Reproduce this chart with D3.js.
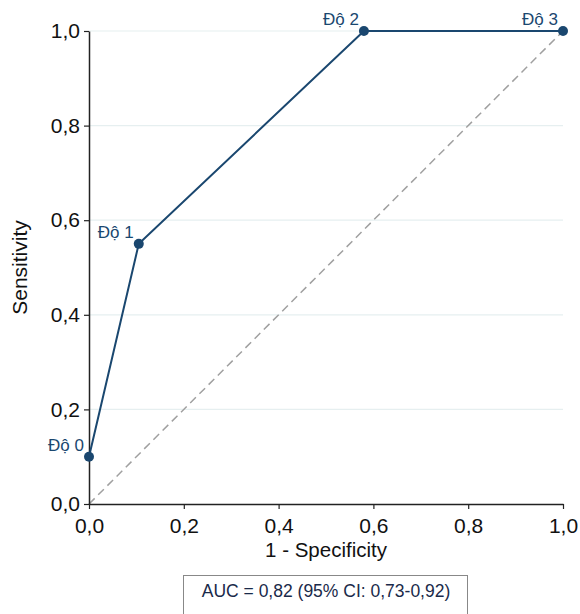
<!DOCTYPE html>
<html>
<head>
<meta charset="utf-8">
<script src="https://cdn.jsdelivr.net/npm/d3@7"></script>
<style>
  body { margin: 0; background: #fff; }
  text { font-family: "Liberation Sans", Arial, sans-serif; }
</style>
</head>
<body>
<div id="chart"></div>
<script>
// ROC points (1 - specificity, sensitivity)
const fpr = [0, 0.105, 0.58, 1.0];
const tpr = [0.1, 0.55, 1.0, 1.0];
const pointLabels = ['Độ 0', 'Độ 1', 'Độ 2', 'Độ 3'];
const tickValues = [0, 0.2, 0.4, 0.6, 0.8, 1.0];
const aucText = 'AUC = 0,82 (95% CI: 0,73-0,92)';

const data = fpr.map((f, i) => ({ x: f, y: tpr[i], label: pointLabels[i] }));

const margin = { top: 31, right: 17, bottom: 110, left: 89 };
const width = 580 - margin.left - margin.right;
const height = 614 - margin.top - margin.bottom;

const fmt = d => d3.format('.1f')(d).replace('.', ',');

const x = d3.scaleLinear().domain([0, 1]).range([0, width]);
const y = d3.scaleLinear().domain([0, 1]).range([height, 0]);

const svg = d3.select('#chart').append('svg')
  .attr('width', 580)
  .attr('height', 614);

const g = svg.append('g')
  .attr('transform', `translate(${margin.left},${margin.top})`);

// gridlines
g.append('g')
  .selectAll('line')
  .data(tickValues.filter(d => d > 0))
  .join('line')
  .attr('x1', 0)
  .attr('x2', width)
  .attr('y1', d => y(d))
  .attr('y2', d => y(d))
  .attr('stroke', '#e6eff0')
  .attr('stroke-width', 1.2);

// reference diagonal
g.append('line')
  .attr('x1', x(0)).attr('y1', y(0))
  .attr('x2', x(1)).attr('y2', y(1))
  .attr('stroke', '#a0a0a0')
  .attr('stroke-width', 1.5)
  .attr('stroke-dasharray', '8,5');

// axes
const xAxis = g.append('g')
  .attr('transform', `translate(0,${height})`)
  .call(d3.axisBottom(x).tickValues(tickValues).tickFormat(fmt).tickSize(5).tickSizeOuter(0));

const yAxis = g.append('g')
  .call(d3.axisLeft(y).tickValues(tickValues).tickFormat(fmt).tickSize(5).tickSizeOuter(0));

[xAxis, yAxis].forEach(ax => {
  ax.select('.domain').attr('stroke', '#222').attr('stroke-width', 1.5);
  ax.selectAll('.tick line').attr('stroke', '#222').attr('stroke-width', 1.2);
  ax.selectAll('.tick text')
    .attr('font-size', 21)
    .attr('fill', '#111')
    .style('font-family', '"Liberation Sans", Arial, sans-serif');
});
xAxis.selectAll('.tick text').attr('y', 8).attr('dy', '1em');
yAxis.selectAll('.tick text').attr('x', -9);

// axis titles
svg.append('text')
  .attr('x', margin.left + width / 2)
  .attr('y', 557)
  .attr('text-anchor', 'middle')
  .attr('font-size', 20.5)
  .attr('fill', '#111')
  .text('1 - Specificity');

svg.append('text')
  .attr('transform', `translate(27,${margin.top + height / 2}) rotate(-90)`)
  .attr('text-anchor', 'middle')
  .attr('font-size', 21)
  .attr('fill', '#111')
  .text('Sensitivity');

// ROC curve
const navy = '#1a476f';
g.append('path')
  .datum(data)
  .attr('fill', 'none')
  .attr('stroke', navy)
  .attr('stroke-width', 2)
  .attr('d', d3.line().x(d => x(d.x)).y(d => y(d.y)));

g.selectAll('circle.pt')
  .data(data)
  .join('circle')
  .attr('class', 'pt')
  .attr('cx', d => x(d.x))
  .attr('cy', d => y(d.y))
  .attr('r', 5)
  .attr('fill', navy);

g.selectAll('text.lbl')
  .data(data)
  .join('text')
  .attr('class', 'lbl')
  .attr('x', d => x(d.x) - 5)
  .attr('y', d => y(d.y) - 6)
  .attr('text-anchor', 'end')
  .attr('font-size', 17)
  .attr('fill', navy)
  .text(d => d.label);

// AUC box
const box = svg.append('g');
box.append('rect')
  .attr('x', 183.5)
  .attr('y', 575.5)
  .attr('width', 284)
  .attr('height', 42)
  .attr('fill', '#fff')
  .attr('stroke', '#888')
  .attr('stroke-width', 1);
box.append('text')
  .attr('x', 326)
  .attr('y', 597)
  .attr('text-anchor', 'middle')
  .attr('font-size', 17.5)
  .attr('fill', '#1a2a4a')
  .text(aucText);
</script>
</body>
</html>
